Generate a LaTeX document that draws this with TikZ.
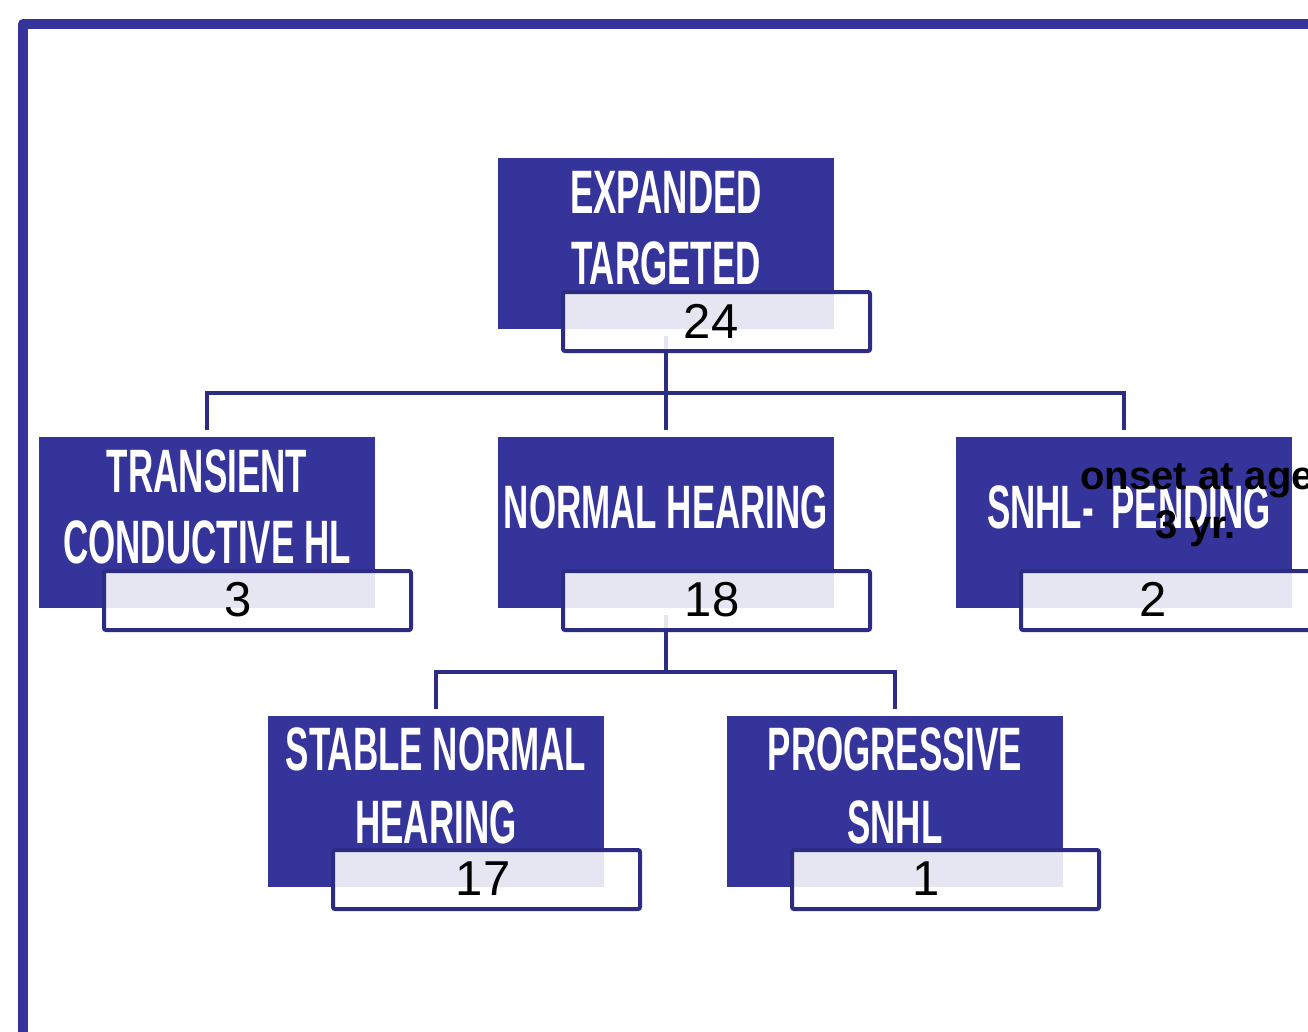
\documentclass[tikz,border=0pt]{standalone}
\usepackage{fontspec}
\setmainfont{Liberation Sans}
\newfontfamily\headfont[FakeStretch=0.57]{Liberation Sans Bold}
\usetikzlibrary{calc}
\definecolor{boxblue}{HTML}{35349A}
\definecolor{lineblue}{HTML}{2D2C85}
\begin{document}
\begin{tikzpicture}[x=0.75pt,y=-0.75pt,
 darkbox/.style={rectangle, fill=boxblue, inner sep=0, outer sep=5.25pt, minimum width=252pt, minimum height=128.25pt},
 valbox/.style={rectangle, draw=lineblue, line width=3pt, fill=white, fill opacity=0.88, draw opacity=1, rounded corners=1.5pt, inner sep=0, minimum width=230.25pt, minimum height=44.25pt},
 head/.style={text=white, font=\headfont\fontsize{46}{46}\selectfont, anchor=base, inner sep=0},
 num/.style={text=black, font=\fontsize{36.75}{36.75}\selectfont, anchor=base, inner sep=0},
 note/.style={text=black, font=\bfseries\fontsize{30}{30}\selectfont, anchor=base, inner sep=0},
 conn/.style={draw=lineblue, line width=3pt},
]
\useasboundingbox (0,0) rectangle (1308,1031);
\clip (0,0) rectangle (1308,1031);
\fill[white] (0,0) rectangle (1308,1031);
% frame
\draw[boxblue, line width=7.5pt, line join=round] (23,1120) -- (23,24) -- (1420,24);
% dark boxes
\node[darkbox] (top) at (666,243.5) {};
\node[darkbox] (trans) at (207,522.5) {};
\node[darkbox] (normal) at (666,522.5) {};
\node[darkbox] (snhl) at (1124,522.5) {};
\node[darkbox] (stable) at (436,801.5) {};
\node[darkbox] (prog) at (895,801.5) {};
% connectors
\coordinate (bus1) at (666,393);
\coordinate (bus2) at (666,672);
\draw[conn] (top.south) -- (bus1);
\draw[conn] (trans.north) |- (bus1) -| (snhl.north);
\draw[conn] (bus1) -- (normal.north);
\draw[conn] (normal.south) -- (bus2);
\draw[conn] (stable.north) |- (bus2) -| (prog.north);
% value boxes
\node[valbox] (vtop) at ($(top)+(50.5,78)$) {};
\node[valbox] (vtrans) at ($(trans)+(50.5,78)$) {};
\node[valbox] (vnormal) at ($(normal)+(50.5,78)$) {};
\node[valbox] (vsnhl) at ($(snhl)+(50.5,78)$) {};
\node[valbox] (vstable) at ($(stable)+(50.5,78)$) {};
\node[valbox] (vprog) at ($(prog)+(50.5,78)$) {};
% headings
\node[head] (h1a) at (666,213) {EXPANDED};
\node[head] (h1b) at (666,284) {TARGETED};
\node[head] (h2a) at (207,492) {TRANSIENT};
\node[head] (h2b) at (207,563) {CONDUCTIVE HL};
\node[head] (h3) at (666,528) {NORMAL HEARING};
\node[head] (h4) at (1129,528) {SNHL-\hspace{6pt} PENDING};
\node[head] (h5a) at (436,770) {STABLE NORMAL};
\node[head] (h5b) at (436,843) {HEARING};
\node[head] (h6a) at (895,770) {PROGRESSIVE};
\node[head] (h6b) at (895,843) {SNHL};
% numbers
\node[num] (n1) at (711,338) {24};
\node[num] (n2) at (238,616) {3};
\node[num] (n3) at (712,616) {18};
\node[num] (n4) at (1153,616) {2};
\node[num] (n5) at (483,895) {17};
\node[num] (n6) at (926,895) {1};
% note
\node[note] (o1) at (1197,489) {onset at age};
\node[note] (o2) at (1196,538) {3 yr.};
\end{tikzpicture}
\end{document}
